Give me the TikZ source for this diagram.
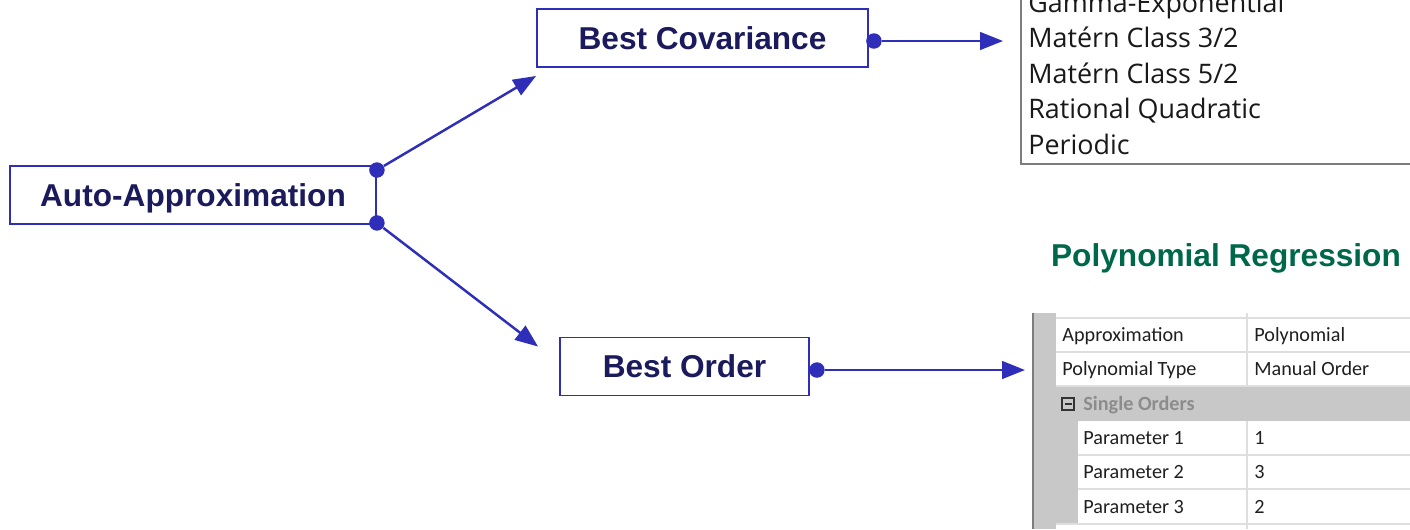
\documentclass[tikz,border=0pt]{standalone}
\usepackage{fontspec}
\setmainfont{Liberation Sans}
\newfontfamily\listfont{Open Sans}
\newfontfamily\gridfont{Carlito}
\usetikzlibrary{arrows.meta}
\definecolor{boxblue}{RGB}{46,46,184}
\definecolor{boxtext}{RGB}{26,26,92}
\definecolor{titlegreen}{RGB}{0,104,74}
\definecolor{panelgray}{RGB}{200,200,200}
\definecolor{gridline}{RGB}{222,222,222}
\definecolor{framegray}{RGB}{125,125,125}

\begin{document}
\begin{tikzpicture}[x=0.02cm, y=-0.02cm,
  >={Triangle[length=13pt,width=10pt]},
  blk/.style={draw=boxblue, line width=1.1pt, fill=white, text=boxtext,
    font=\fontsize{18}{20}\selectfont\bfseries, minimum height=1.16cm,
    text height=12.9pt, text depth=0pt},
  link/.style={draw=boxblue, line width=1.4pt},
  dot/.style={circle, fill=boxblue, inner sep=0pt, minimum size=0.31cm},
  item/.style={anchor=base west, inner sep=0pt, text=black!90,
    font=\listfont\fontsize{15.3}{17}\selectfont},
  cell/.style={anchor=base west, inner sep=0pt, text=black!88,
    font=\gridfont\fontsize{11.5}{13}\selectfont}]
\useasboundingbox (0,0) rectangle (1410,529);

\draw (193,195) node[blk, minimum width=7.32cm] (auto) {Auto-Approximation};
\path (auto.north east) ++(0,5) node[dot] (auto1) {};
\path (auto.south east) ++(0,-2) node[dot] (auto2) {};
%% Best Covariance
\draw (auto) ++(509.5,-157) node[blk, minimum width=6.62cm] (cov) {Best Covariance};
\path (cov.south west) ++(0,8) coordinate (covin);
\path[link, ->] (auto1) -- (covin);
\path (cov.east) ++(5,3) node[dot] (cov1) {};
%% Best Order
\draw (auto) ++(491.5,171.5) node[blk, minimum width=4.98cm] (ord) {Best Order};
\path (ord.north west) ++(-21,10) coordinate (ordin);
\path[link, ->] (auto2) -- (ordin);
\path (ord.east) ++(7,3.5) node[dot] (ord1) {};

%%%%%%%%%%%%%%%%%%%%%% Covariance list

\draw[framegray, line width=1.3pt] (1021,-10) |- (1420,164);
\node[item] (k0) at (1028,12) {Gamma-Exponential};
\node[item] (k1) at (1028,47.5) {Matérn Class 3/2};
\node[item] (k2) at (1028,83) {Matérn Class 5/2};
\node[item] (k3) at (1028,118.5) {Rational Quadratic};
\node[item] (k4) at (1028,154.5) {Periodic};
\path (k1.west) ++(-25,0) coordinate (listin);
\path[link, ->] (cov1) -- (listin |- cov1);

%%%%%%%%%%%%%%%%%%%%%% Polynomial Regression

\node[anchor=base, inner sep=0pt, font=\fontsize{18}{20}\selectfont\bfseries,
  text=titlegreen] (title) at (1226,266) {Polynomial Regression};
%% grid
\fill[panelgray] (1033,313) rectangle (1056,529);
\fill[panelgray] (1056,421) rectangle (1078,524);
\fill[panelgray] (1056,386) rectangle (1410,421);
\draw[framegray, line width=0.6pt] (1033,313) -- (1033,529);
\draw[gridline, line width=0.6pt]
  (1056,318) -- (1410,318) (1056,352) -- (1410,352) (1056,386) -- (1410,386)
  (1078,455) -- (1410,455) (1078,489) -- (1410,489) (1056,524) -- (1410,524)
  (1247,313) -- (1247,386) (1247,421) -- (1247,529);
\node[cell] (r1) at (1062,341.5) {Approximation};
\node[cell] (v1) at (1254,341.5) {Polynomial};
\node[cell] (r2) at (1062,375.5) {Polynomial Type};
\node[cell] (v2) at (1254,375.5) {Manual Order};
\draw[black!80, line width=0.7pt] (1062,398) rectangle (1074,410) (1064.5,404) -- (1071.5,404);
\node[cell, text=black!45, font=\gridfont\fontsize{11.5}{13}\selectfont\bfseries] (r3)
  at (1083,410.5) {Single Orders};
\node[cell] (r4) at (1083,444.5) {Parameter 1};
\node[cell] (v4) at (1254,444.5) {1};
\node[cell] (r5) at (1083,478.5) {Parameter 2};
\node[cell] (v5) at (1254,478.5) {3};
\node[cell] (r6) at (1083,513.5) {Parameter 3};
\node[cell] (v6) at (1254,513.5) {2};
\path (r2.base west) ++(-37,-6.5) coordinate (gridin);
\path[link, ->] (ord1) -- (gridin |- ord1);
\end{tikzpicture}
\end{document}
